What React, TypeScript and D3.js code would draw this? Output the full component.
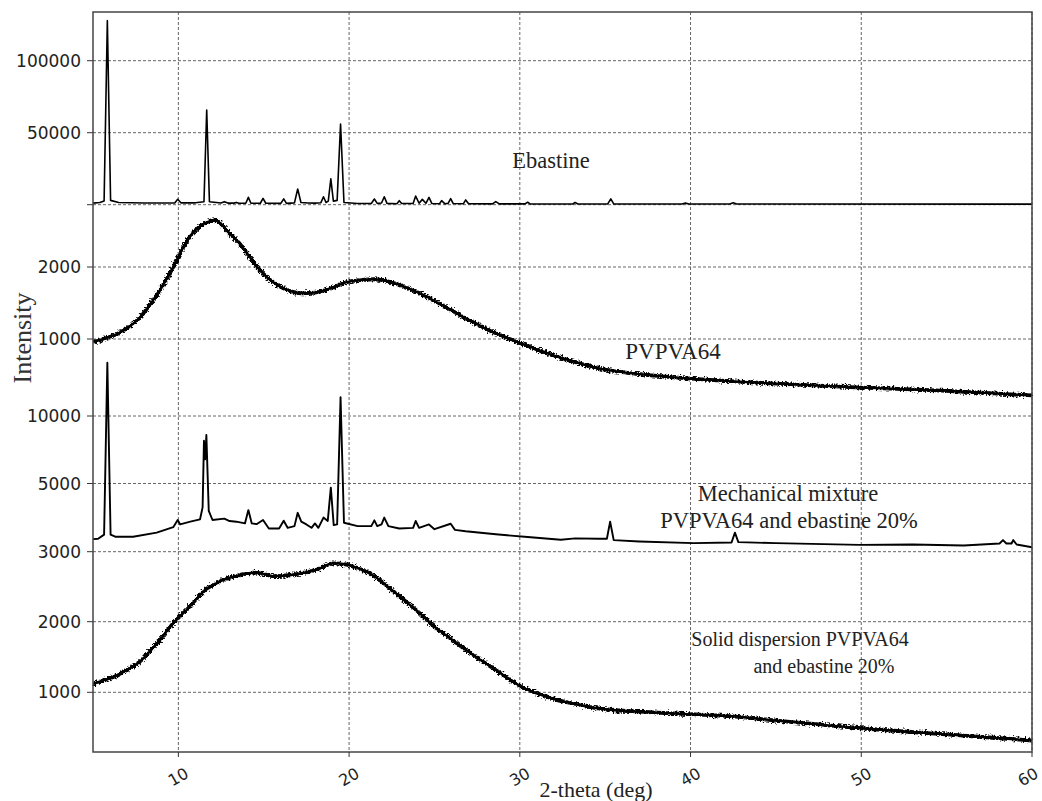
import React from "react";
import * as d3 from "d3";

// ---------- DATA (2-theta in deg, intensity in counts) ----------
const xTicks = [10, 20, 30, 40, 50, 60];

const ebastine: [number, number][] = [
  [5.0, 1100], [5.4, 1500], [5.65, 2500], [5.84, 127800], [6.03, 3000], [6.5, 1500], [8.0, 1200],
  [9.8, 1300], [9.96, 3800], [10.15, 1300], [11.0, 1300], [11.5, 2000], [11.66, 65800], [11.82, 2000],
  [12.5, 1200], [12.69, 2100], [12.9, 1100], [13.25, 1100], [13.4, 1600], [13.55, 1000], [13.95, 1000],
  [14.1, 5100], [14.25, 1000], [14.8, 1000], [14.96, 4400], [15.12, 1000], [16.0, 900], [16.17, 4000],
  [16.33, 900], [16.8, 1300], [16.99, 10900], [17.18, 1500], [17.6, 1200], [18.0, 1100], [18.35, 1400],
  [18.5, 5500], [18.65, 1500], [18.78, 2500], [18.93, 18000], [19.08, 2500], [19.3, 3000], [19.5, 56000],
  [19.7, 1500], [20.5, 800], [21.3, 800], [21.48, 3960], [21.65, 900], [21.9, 1200], [22.06, 5500],
  [22.22, 900], [22.8, 700], [22.94, 2800], [23.08, 800], [23.75, 900], [23.9, 6000], [24.1, 1000],
  [24.29, 3700], [24.5, 1000], [24.68, 5100], [24.85, 800], [25.3, 700], [25.42, 2800], [25.6, 700],
  [25.8, 900], [25.95, 4200], [26.1, 800], [26.7, 700], [26.83, 3300], [27.0, 700], [28.4, 600],
  [28.59, 2100], [28.8, 600], [30.3, 600], [30.46, 1700], [30.6, 600], [33.1, 500], [33.24, 1500],
  [33.4, 500], [35.15, 600], [35.33, 4000], [35.5, 600], [39.5, 500], [39.7, 1100], [39.9, 500],
  [42.3, 500], [42.5, 1300], [42.7, 500], [60, 400],
];

const pvpva64: [number, number][] = [
  [5, 963], [5.5, 990], [6, 1032], [6.5, 1080], [6.97, 1148], [7.5, 1240], [7.95, 1355], [8.4, 1500],
  [8.92, 1678], [9.3, 1830], [9.7, 2000], [10.29, 2277], [10.88, 2484], [11.3, 2570], [11.66, 2620],
  [12.15, 2650], [12.5, 2600], [12.83, 2508], [13.2, 2420], [13.6, 2324], [14.0, 2200], [14.39, 2069],
  [14.8, 1950], [15.17, 1862], [15.6, 1780], [16.15, 1705], [16.7, 1655], [17.32, 1635], [17.8, 1640],
  [18.3, 1660], [19.1, 1720], [19.86, 1790], [20.7, 1818], [21.5, 1830], [22.2, 1805], [23, 1747],
  [23.7, 1680], [24.5, 1595], [25.2, 1500], [26, 1401], [26.7, 1300], [27.5, 1207], [28.2, 1120],
  [29, 1041], [29.7, 970], [30.5, 903], [31.2, 835], [32, 770], [32.8, 712], [33.5, 662], [34.2, 615],
  [35, 575], [36, 540], [37, 512], [38.5, 478], [40, 450], [42.5, 412], [45, 380], [47.5, 352],
  [50, 326], [52.5, 303], [55, 280], [57.5, 248], [60, 216],
];

const mixture: [number, number][] = [
  [5.0, 3370], [5.3, 3380], [5.65, 3500], [5.84, 13950], [6.03, 3500], [6.3, 3440], [7.35, 3440],
  [8.73, 3560], [9.7, 3720], [9.96, 3930], [10.1, 3800], [10.7, 3880], [11.27, 3950], [11.42, 4300],
  [11.5, 8170], [11.57, 6800], [11.64, 8590], [11.78, 4200], [12.0, 3930], [12.69, 3970], [13.0, 3900],
  [13.4, 3880], [13.9, 3830], [14.1, 4220], [14.3, 3830], [14.6, 3810], [14.96, 3930], [15.3, 3680],
  [15.9, 3680], [16.17, 3910], [16.4, 3700], [16.8, 3750], [16.99, 4140], [17.2, 3880], [17.5, 3800],
  [17.8, 3700], [18.0, 3830], [18.2, 3700], [18.5, 4000], [18.75, 3900], [18.93, 4880], [19.1, 3780],
  [19.3, 3800], [19.5, 11385], [19.7, 3850], [20.5, 3750], [21.3, 3750], [21.48, 3920], [21.65, 3750],
  [21.9, 3800], [22.06, 4000], [22.3, 3750], [22.94, 3680], [23.75, 3700], [23.9, 3900], [24.1, 3700],
  [24.68, 3800], [25.0, 3660], [25.95, 3820], [26.2, 3640], [26.83, 3600], [28.59, 3510], [30.46, 3430],
  [32.4, 3350], [33.24, 3390], [34.6, 3380], [35.1, 3380], [35.29, 3880], [35.5, 3340], [37, 3300],
  [40.17, 3250], [42.4, 3270], [42.6, 3560], [42.8, 3280], [45, 3250], [49.9, 3200], [53, 3210],
  [56, 3180], [58.1, 3240], [58.3, 3340], [58.5, 3240], [58.8, 3240], [58.9, 3340], [59.1, 3210],
  [60, 3130],
];

const solidDispersion: [number, number][] = [
  [5, 1118], [5.5, 1160], [6, 1198], [6.5, 1250], [6.97, 1316], [7.5, 1390], [7.95, 1482], [8.4, 1600],
  [8.92, 1741], [9.3, 1860], [9.7, 1977], [10.1, 2080], [10.48, 2166], [10.9, 2280], [11.27, 2378],
  [11.6, 2460], [12.05, 2520], [12.6, 2590], [13.2, 2637], [13.8, 2670], [14.4, 2694], [15.0, 2675],
  [15.55, 2645], [16.1, 2650], [16.7, 2665], [17.5, 2700], [18.3, 2756], [19.05, 2827], [19.85, 2810],
  [20.5, 2760], [21, 2710], [21.5, 2640], [22, 2550], [22.5, 2450], [23, 2350], [23.5, 2250], [24, 2150],
  [24.5, 2040], [25, 1930], [25.5, 1840], [26, 1750], [26.5, 1660], [27, 1575], [27.5, 1490], [28, 1410],
  [28.5, 1330], [29, 1250], [29.5, 1170], [30, 1090], [31, 985], [32, 905], [33, 845], [34, 795],
  [35, 760], [37, 725], [40, 690], [42.5, 660], [45, 600], [47.5, 545], [50, 491], [52.5, 445],
  [55, 404], [57.5, 360], [60, 317],
];

const ebastineTicks = [0, 50000, 100000];
const pvpvaTicks = [1000, 2000];
const mixtureTicks = [3000, 5000, 10000];
const dispersionTicks = [1000, 2000];

// ---------- LAYOUT ----------
const W = 1042, H = 801;
const L = 93, R = 1032, T = 12, B = 752;

const x = d3.scaleLinear().domain([5, 60]).range([L, R]);
const y1 = d3.scaleLinear().domain([0, 100000]).range([204.7, 60.7]);
const y2 = d3.scaleLinear().domain([1000, 2000]).range([339, 267]);
const y3 = d3.scaleLinear().domain([3000, 5000, 10000]).range([551.7, 483.5, 416]);
const y4 = d3.scaleLinear().domain([1000, 2000]).range([692.3, 621.7]);

const mkLine = (ys: d3.ScaleLinear<number, number>) =>
  d3.line<[number, number]>().x((d) => x(d[0])).y((d) => ys(d[1]));
const mkSmooth = (ys: d3.ScaleLinear<number, number>) =>
  d3.line<[number, number]>().x((d) => x(d[0])).y((d) => ys(d[1])).curve(d3.curveMonotoneX);

const sans = "'DejaVu Sans', sans-serif";
const serif = "'Liberation Serif', 'Times New Roman', serif";

export default function App() {
  const yTickGroups: { scale: d3.ScaleLinear<number, number>; ticks: number[]; hideZero?: boolean }[] = [
    { scale: y1, ticks: ebastineTicks, hideZero: true },
    { scale: y2, ticks: pvpvaTicks },
    { scale: y3, ticks: mixtureTicks },
    { scale: y4, ticks: dispersionTicks },
  ];
  const pvPath = mkSmooth(y2)(pvpva64) || "";
  const sdPath = mkSmooth(y4)(solidDispersion) || "";
  return (
    <svg width={W} height={H} style={{ position: "absolute", left: 0, top: 0, background: "#fff" }}>
      <defs>
        <filter id="noise" filterUnits="userSpaceOnUse" x={0} y={0} width={W} height={H}>
          <feTurbulence type="fractalNoise" baseFrequency="0.55" numOctaves={2} seed={3} result="t" />
          <feDisplacementMap in="SourceGraphic" in2="t" scale={6} xChannelSelector="R" yChannelSelector="G" />
        </filter>
      </defs>
      <rect x={0} y={0} width={W} height={H} fill="#fff" />
      {/* vertical grid */}
      {xTicks.map((t) => (
        <line key={"vg" + t} x1={x(t)} x2={x(t)} y1={T} y2={B} stroke="#555" strokeWidth={0.9} strokeDasharray="3,2" />
      ))}
      {/* horizontal grid + y ticks */}
      {yTickGroups.map((g, gi) =>
        g.ticks.map((t) => (
          <g key={gi + "-" + t}>
            <line x1={L} x2={R} y1={g.scale(t)} y2={g.scale(t)} stroke="#555" strokeWidth={0.9} strokeDasharray="3,2" />
            <line x1={L - 6} x2={L} y1={g.scale(t)} y2={g.scale(t)} stroke="#333" strokeWidth={1} />
            {!(g.hideZero && t === 0) && (
              <text x={L - 12} y={g.scale(t)} textAnchor="end" dominantBaseline="central" fontFamily={sans} fontSize={17} fill="#222">
                {t}
              </text>
            )}
          </g>
        ))
      )}
      {/* curves */}
      <path d={mkLine(y1)(ebastine) || ""} fill="none" stroke="#000" strokeWidth={1.6} strokeLinejoin="round" />
      <path d={mkLine(y3)(mixture) || ""} fill="none" stroke="#000" strokeWidth={1.9} strokeLinejoin="round" />
      <path d={pvPath} fill="none" stroke="#000" strokeWidth={2.4} strokeLinejoin="round" />
      <path d={sdPath} fill="none" stroke="#000" strokeWidth={2.4} strokeLinejoin="round" />
      <g filter="url(#noise)">
        <path d={pvPath} fill="none" stroke="#000" strokeWidth={3.8} strokeLinejoin="round" />
        <path d={sdPath} fill="none" stroke="#000" strokeWidth={3.8} strokeLinejoin="round" />
      </g>
      {/* frame */}
      <rect x={L} y={T} width={R - L} height={B - T} fill="none" stroke="#444" strokeWidth={1.5} />
      {/* x ticks */}
      {xTicks.map((t) => {
        const cx = t === 60 ? x(t) - 4 : x(t);
        return (
          <g key={"xt" + t}>
            <line x1={x(t)} x2={x(t)} y1={B} y2={B + 5} stroke="#333" strokeWidth={1} />
            <text
              x={cx}
              y={777}
              textAnchor="middle"
              dominantBaseline="central"
              fontFamily={sans}
              fontSize={16}
              fill="#222"
              transform={`rotate(-30, ${cx}, 777)`}
            >
              {t}
            </text>
          </g>
        );
      })}
      {/* axis labels */}
      <text x={596} y={789} textAnchor="middle" dominantBaseline="central" fontFamily={serif} fontSize={22} fill="#222">
        2-theta (deg)
      </text>
      <text x={22} y={338} textAnchor="middle" dominantBaseline="central" fontFamily={serif} fontSize={26} fill="#333" transform="rotate(-90, 22, 338)">
        Intensity
      </text>
      {/* annotations */}
      <text x={551} y={160} textAnchor="middle" dominantBaseline="central" fontFamily={serif} fontSize={22.5} fill="#222">Ebastine</text>
      <text x={673} y={351} textAnchor="middle" dominantBaseline="central" fontFamily={serif} fontSize={23} fill="#222">PVPVA64</text>
      <text x={788} y={493} textAnchor="middle" dominantBaseline="central" fontFamily={serif} fontSize={22.5} fill="#222">Mechanical mixture</text>
      <text x={789} y={520} textAnchor="middle" dominantBaseline="central" fontFamily={serif} fontSize={22.5} fill="#222">PVPVA64 and ebastine 20%</text>
      <text x={800} y={639} textAnchor="middle" dominantBaseline="central" fontFamily={serif} fontSize={20} fill="#222">Solid dispersion PVPVA64</text>
      <text x={824} y={666} textAnchor="middle" dominantBaseline="central" fontFamily={serif} fontSize={20} fill="#222">and ebastine 20%</text>
    </svg>
  );
}
